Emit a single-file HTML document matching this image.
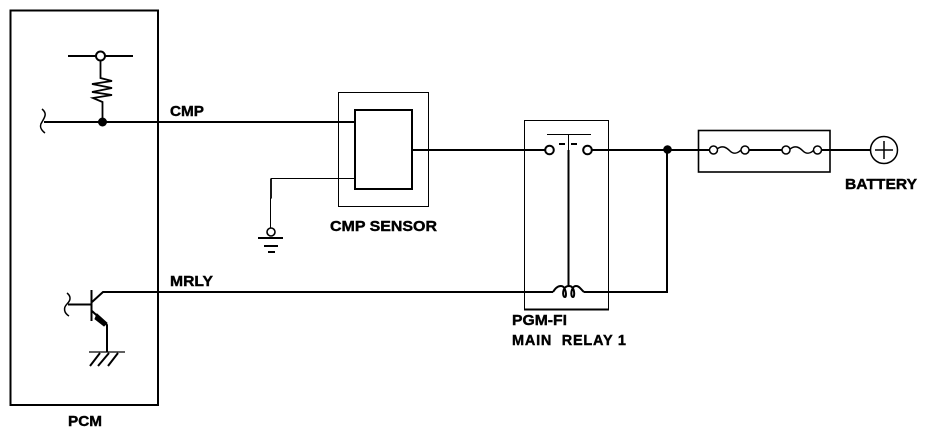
<!DOCTYPE html>
<html>
<head>
<meta charset="utf-8">
<style>
html,body{margin:0;padding:0;background:#fff;width:944px;height:442px;overflow:hidden}
svg{display:block}
text{font-family:"Liberation Sans",sans-serif;font-weight:bold;font-size:14.5px;fill:#000;stroke:#000;stroke-width:.4}
</style>
</head>
<body>
<svg width="944" height="442" viewBox="0 0 944 442" fill="none" stroke="#000" stroke-width="2">
<!-- PCM box -->
<rect x="10.5" y="10.5" width="147.5" height="394.5"/>
<!-- top pull-up -->
<path d="M68 56H133"/>
<circle cx="100.5" cy="56" r="4.5" fill="#fff"/>
<path d="M100.5 61V78L112 81L92 84L112 88L92 92L112 95L93 98L102.5 102V122" stroke-width="1.8"/>
<circle cx="102.5" cy="122" r="4.5" fill="#000" stroke="none"/>
<path d="M44 122H355"/>
<path d="M42 109C48 114 44 118 42 122C39 126 41 130 45 133" stroke-width="1.5"/>
<!-- transistor -->
<path d="M91.5 290V321"/>
<path d="M68 304.5H91"/>
<path d="M67 293C72 297 70 301 67 304C63 308 64 313 69 316" stroke-width="1.5"/>
<path d="M92 302L103 292H553"/>
<path d="M584 292H667V150"/>
<path d="M92 311L107 325V352"/>
<path d="M97 314L107 323L104 326L95 319Z" fill="#000" stroke-width="1"/>
<path d="M89 352H125" stroke-width="1.3"/>
<path d="M100 353L90 366M109 353L98 366M118 353L108 366"/>
<!-- CMP sensor -->
<rect x="338.5" y="92.5" width="90" height="114" stroke-width="1"/>
<rect x="355" y="110" width="57" height="79"/>
<path d="M412 150H545"/>
<path d="M355 178.500H271V199" stroke-width="1"/>
<path d="M271 179V198" stroke-width="1.8"/>
<path d="M270.500 198V228" stroke-width="1"/>
<circle cx="271" cy="232" r="4" stroke-width="1.600"/>
<path d="M258 238H283M264 246H278M268 252H275"/>
<!-- relay -->
<rect x="524.500" y="120.500" width="84" height="189" stroke-width="1"/>
<path d="M524 309.500H609"/>
<circle cx="549.500" cy="150" r="4.300" stroke-width="2"/>
<circle cx="587.500" cy="150" r="4.300" stroke-width="2"/>
<path d="M547 134.500H591" stroke-width="1"/>
<path d="M568.500 134V150" stroke-width="1"/>
<path d="M568.500 150V286"/>
<path d="M559 144H565M571 144H577"/>
<path d="M592 150H709"/>
<path d="M553 292C555 289 557 286 561 286C566 286 567 297 565 297C562 297 562 286 569 286C575 286 575 297 573 297C570 297 571 286 576 286C580 286 581 290 584 292"/>
<circle cx="667.500" cy="149.500" r="4.300" fill="#000" stroke="none"/>
<!-- fuse box -->
<rect x="698.500" y="130.500" width="131.500" height="41.500" stroke-width="1.600"/>
<path d="M717 149C722 145 726 147 730 151C733 154 737 154 741 150" stroke-width="1.500"/>
<path d="M790 149C795 145 799 147 803 151C806 154 810 154 814 150" stroke-width="1.500"/>
<path d="M749 150H782"/>
<path d="M822 150H870"/>
<circle cx="713.500" cy="150" r="4" fill="#fff" stroke-width="1.500"/>
<circle cx="745" cy="150" r="4" fill="#fff" stroke-width="1.500"/>
<circle cx="786" cy="150" r="4" fill="#fff" stroke-width="1.500"/>
<circle cx="817.500" cy="150" r="4" fill="#fff" stroke-width="1.500"/>
<!-- battery -->
<circle cx="884" cy="150" r="13.500" fill="#fff" stroke-width="1.500"/>
<path d="M875 150H893M884 141V159" stroke-width="1.500"/>
<!-- labels -->
<text x="170" y="116" textLength="34" lengthAdjust="spacingAndGlyphs">CMP</text>
<text x="170" y="286" textLength="43" lengthAdjust="spacingAndGlyphs">MRLY</text>
<text x="68" y="426" textLength="34" lengthAdjust="spacingAndGlyphs">PCM</text>
<text x="330" y="231" textLength="107" lengthAdjust="spacingAndGlyphs">CMP SENSOR</text>
<text x="512" y="325" textLength="55" lengthAdjust="spacingAndGlyphs">PGM-FI</text>
<text x="512" y="345" textLength="114" lengthAdjust="spacing">MAIN&#160;&#160;RELAY 1</text>
<text x="845" y="189" textLength="72" lengthAdjust="spacingAndGlyphs">BATTERY</text>
</svg>
</body>
</html>
